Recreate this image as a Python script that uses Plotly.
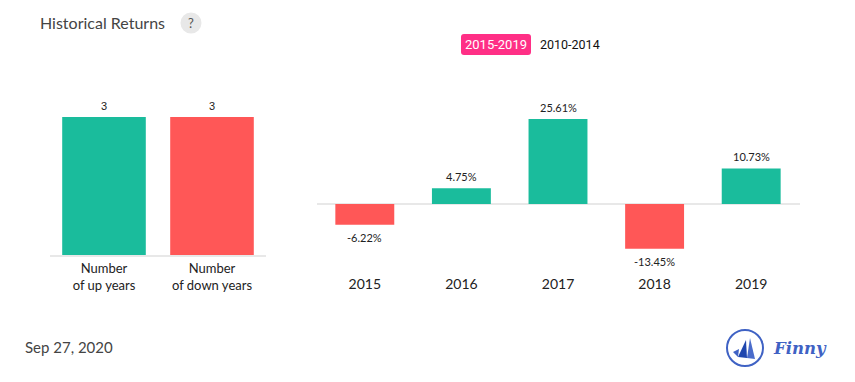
import plotly.graph_objects as go

W, H = 855, 382
GREEN, RED = "#1ABC9C", "#FF5757"

count_labels = ["Number<br>of up years", "Number<br>of down years"]
count_values = [3, 3]
count_colors = [GREEN, RED]

years = ["2015", "2016", "2017", "2018", "2019"]
returns = [-6.22, 4.75, 25.61, -13.45, 10.73]
return_text = ["-6.22%", "4.75%", "25.61%", "-13.45%", "10.73%"]
return_colors = [RED, GREEN, GREEN, RED, GREEN]


def px_x(a, b):
    return [a / W, b / W]


def px_y(top, bottom):
    return [1 - bottom / H, 1 - top / H]


fig = go.Figure()
fig.add_bar(x=count_labels, y=count_values, xaxis="x", yaxis="y",
            marker=dict(color=count_colors, line_width=0), width=0.774,
            cliponaxis=False, hoverinfo="skip")
fig.add_bar(x=years, y=returns, xaxis="x2", yaxis="y2",
            marker=dict(color=return_colors, line_width=0), width=0.61,
            cliponaxis=False, hoverinfo="skip")

annotations = [
    dict(x=38, y=22, text="Historical Returns", xanchor="left",
         font=dict(family="Lato", size=16, color="#444")),
    dict(x=191, y=23, text="?", font=dict(family="Lato", size=13, color="#555")),
    dict(x=496, y=45, text="2015-2019", font=dict(family="Roboto", size=13, color="#fff")),
    dict(x=570, y=45, text="2010-2014", font=dict(family="Roboto", size=12.5, color="#111")),
    dict(x=23, y=347, text="Sep 27, 2020", xanchor="left",
         font=dict(family="Lato", size=15, color="#444")),
    dict(x=771, y=348, text="<b><i>Finny</i></b>", xanchor="left",
         font=dict(family="DejaVu Serif", size=16.5, color="#3F62C4")),
]
for a in annotations:
    a.update(x=a["x"] / W, y=1 - a["y"] / H, xref="paper", yref="paper",
             showarrow=False, yanchor="middle")
    a.setdefault("xanchor", "center")

for i, v in enumerate(count_values):
    annotations.append(dict(x=i, y=v, xref="x", yref="y", text=str(v), showarrow=False,
                            yanchor="bottom", yshift=3,
                            font=dict(family="Liberation Sans", size=11, color="#222")))
for i, (v, t) in enumerate(zip(returns, return_text)):
    annotations.append(dict(x=i, y=v, xref="x2", yref="y2", text=t, showarrow=False,
                            yanchor="bottom" if v > 0 else "top", yshift=3 if v > 0 else -4,
                            font=dict(family="Lato", size=11, color="#222")))


def fx(x):
    return x / W


def fy(y):
    return 1 - y / H


def rounded(x0, y0, x1, y1, r):
    pts = [("M", x0 + r, y0), ("L", x1 - r, y0), ("Q", x1, y0, x1, y0 + r), ("L", x1, y1 - r),
           ("Q", x1, y1, x1 - r, y1), ("L", x0 + r, y1), ("Q", x0, y1, x0, y1 - r),
           ("L", x0, y0 + r), ("Q", x0, y0, x0 + r, y0)]
    out = []
    for p in pts:
        c = p[1:]
        coords = " ".join(f"{fx(c[i]):.5f},{fy(c[i+1]):.5f}" for i in range(0, len(c), 2))
        out.append(p[0] + coords)
    return " ".join(out) + " Z"


def poly(pts, fill):
    s = " L".join(f"{fx(x):.5f},{fy(y):.5f}" for x, y in pts)
    return dict(type="path", xref="paper", yref="paper", path="M" + s + " Z",
                fillcolor=fill, line_width=0)


shapes = [
    dict(type="circle", xref="paper", yref="paper", x0=fx(180.5), x1=fx(201.5),
         y0=fy(33.5), y1=fy(12.5), fillcolor="#E8E8E8", line_width=0),
    dict(type="path", xref="paper", yref="paper", path=rounded(461, 34, 531, 55, 3),
         fillcolor="#FF2F86", line_width=0),
    dict(type="circle", xref="paper", yref="paper", x0=fx(727), x1=fx(763),
         y0=fy(366), y1=fy(330), fillcolor="rgba(0,0,0,0)",
         line=dict(color="#3F62C4", width=2)),
    poly([(733, 352), (739, 349), (738, 357)], "#3F62C4"),
    poly([(738, 357), (746, 340), (747, 358)], "#1F46AE"),
    poly([(747, 358), (750, 338), (755, 359)], "#4A6CCB"),
]

fig.update_layout(
    width=W, height=H, margin=dict(l=0, r=0, t=0, b=0), autosize=False,
    paper_bgcolor="#fff", plot_bgcolor="#fff", showlegend=False,
    annotations=annotations, shapes=shapes,
    xaxis=dict(domain=px_x(50, 266), anchor="y", type="category", showgrid=False,
               range=[-0.5, 1.5],
               showline=True, linecolor="#E8E8E8", linewidth=2, ticks="",
               tickfont=dict(family="Lato", size=13, color="#222"), automargin=False),
    yaxis=dict(domain=px_y(95, 255), anchor="x", range=[0, 160 / 46], visible=False),
    xaxis2=dict(domain=px_x(316.5, 799.5), anchor="y2", type="category", showgrid=False,
                range=[-0.5, 4.5],
                showline=False, ticks="", tickfont=dict(family="Lato", size=14, color="#222"),
                automargin=False),
    yaxis2=dict(domain=px_y(95, 274), anchor="x2", range=[-70 / 3.32, 109 / 3.32],
                showgrid=False, showticklabels=False, ticks="", showline=False,
                zeroline=True, zerolinecolor="#E8E8E8", zerolinewidth=2, automargin=False),
)
fig.write_html("out.html", post_script="document.body.style.margin='0';",
               config={"displayModeBar": False})
